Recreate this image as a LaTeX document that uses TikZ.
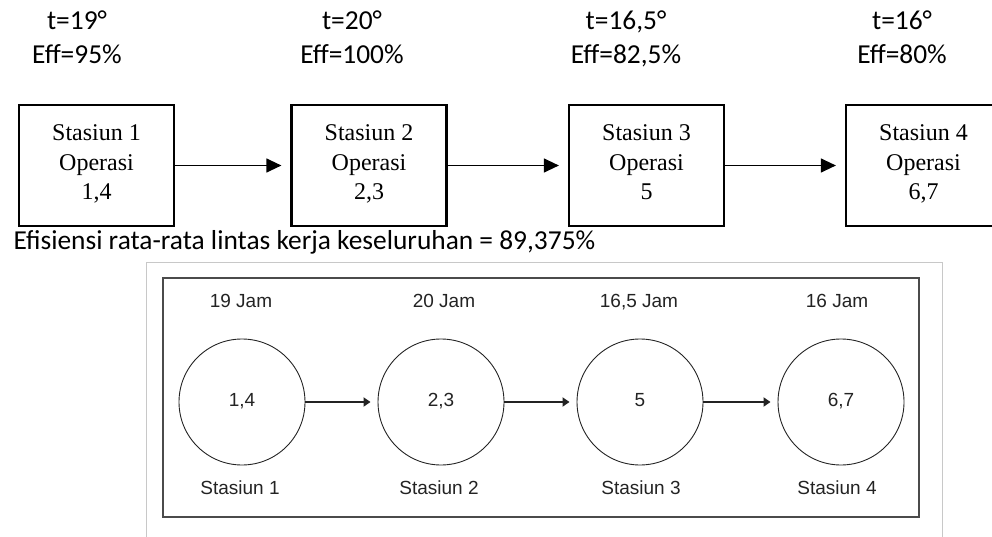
\documentclass[tikz,border=0pt]{standalone}
\usepackage{fontspec}
\setmainfont{Liberation Serif}
\newfontfamily\calibrifont{Carlito}
\newfontfamily\arialfont{Liberation Sans}
\usetikzlibrary{arrows.meta,positioning}
\definecolor{framegray}{RGB}{200,200,200}
\definecolor{boxgray}{RGB}{75,75,75}
\definecolor{inkgray}{RGB}{35,35,35}

\begin{document}
\begin{tikzpicture}[
  x=1pt, y=-1pt,
  station/.style={rectangle, draw, line width=2.2pt,
                  minimum width=155pt, minimum height=121pt,
                  align=center, inner sep=0pt, text depth=6pt,
                  font=\fontsize{24}{29.5}\selectfont},
  info/.style={align=center, text depth=7pt,
               font=\calibrifont\fontsize{27.4}{34}\selectfont},
  flow/.style={-{Triangle[length=15pt,width=14pt]}, line width=1.2pt,
               shorten >=9pt},
  op/.style={circle, draw=inkgray, line width=0.9pt, minimum size=126pt,
             inner sep=0pt, text=inkgray, text depth=4pt,
             font=\arialfont\fontsize{19}{22}\selectfont},
  tag/.style={text=inkgray, text depth=4pt,
              font=\arialfont\fontsize{19}{22}\selectfont},
  link/.style={-{Triangle[length=7pt,width=9pt]}, line width=2pt, inkgray,
               shorten >=7pt}
]
\useasboundingbox (0,0) rectangle (992,537);
\clip (0,0) rectangle (992,537);

% line balancing per station
\node[info] (eff1) at (77,41)  {t=19°\\Eff=95\%};
\node[info] (eff2) at (352,41) {t=20°\\Eff=100\%};
\node[info] (eff3) at (626,41) {t=16,5°\\Eff=82,5\%};
\node[info] (eff4) at (902,41) {t=16°\\Eff=80\%};

\node[station] (st1) at (96.5,165.5)  {Stasiun 1\\Operasi\\1,4};
\node[station] (st2) at (369,165.5)   {Stasiun 2\\Operasi\\2,3};
\node[station] (st3) at (646.5,165.5) {Stasiun 3\\Operasi\\5};
\node[station] (st4) at (923.5,165.5) {Stasiun 4\\Operasi\\6,7};

\draw[flow] (st1) -- (st2);
\draw[flow] (st2) -- (st3);
\draw[flow] (st3) -- (st4);

\node[info, anchor=west] (avg) at (10,243)
  {Efisiensi rata-rata lintas kerja keseluruhan = 89,375\%};

% precedence network
\draw[framegray, line width=0.8pt] (146,537) -- (146,262) -- (942,262) -- (942,537);
\draw[boxgray, line width=1.4pt] (163,278) rectangle (919,517);

\node[tag] (jam1) at (241,303) {19 Jam};
\node[tag] (jam2) at (444,303) {20 Jam};
\node[tag] (jam3) at (639,303) {16,5 Jam};
\node[tag] (jam4) at (837,303) {16 Jam};

\node[op] (op1) at (242,402) {1,4};
\node[op] (op2) at (441,402) {2,3};
\node[op] (op3) at (640,402) {5};
\node[op] (op4) at (841,402) {6,7};

\node[tag] (lbl1) at (240,490) {Stasiun 1};
\node[tag] (lbl2) at (439,490) {Stasiun 2};
\node[tag] (lbl3) at (641,490) {Stasiun 3};
\node[tag] (lbl4) at (837,490) {Stasiun 4};

\draw[link] (op1) -- (op2);
\draw[link] (op2) -- (op3);
\draw[link] (op3) -- (op4);
\end{tikzpicture}
\end{document}
